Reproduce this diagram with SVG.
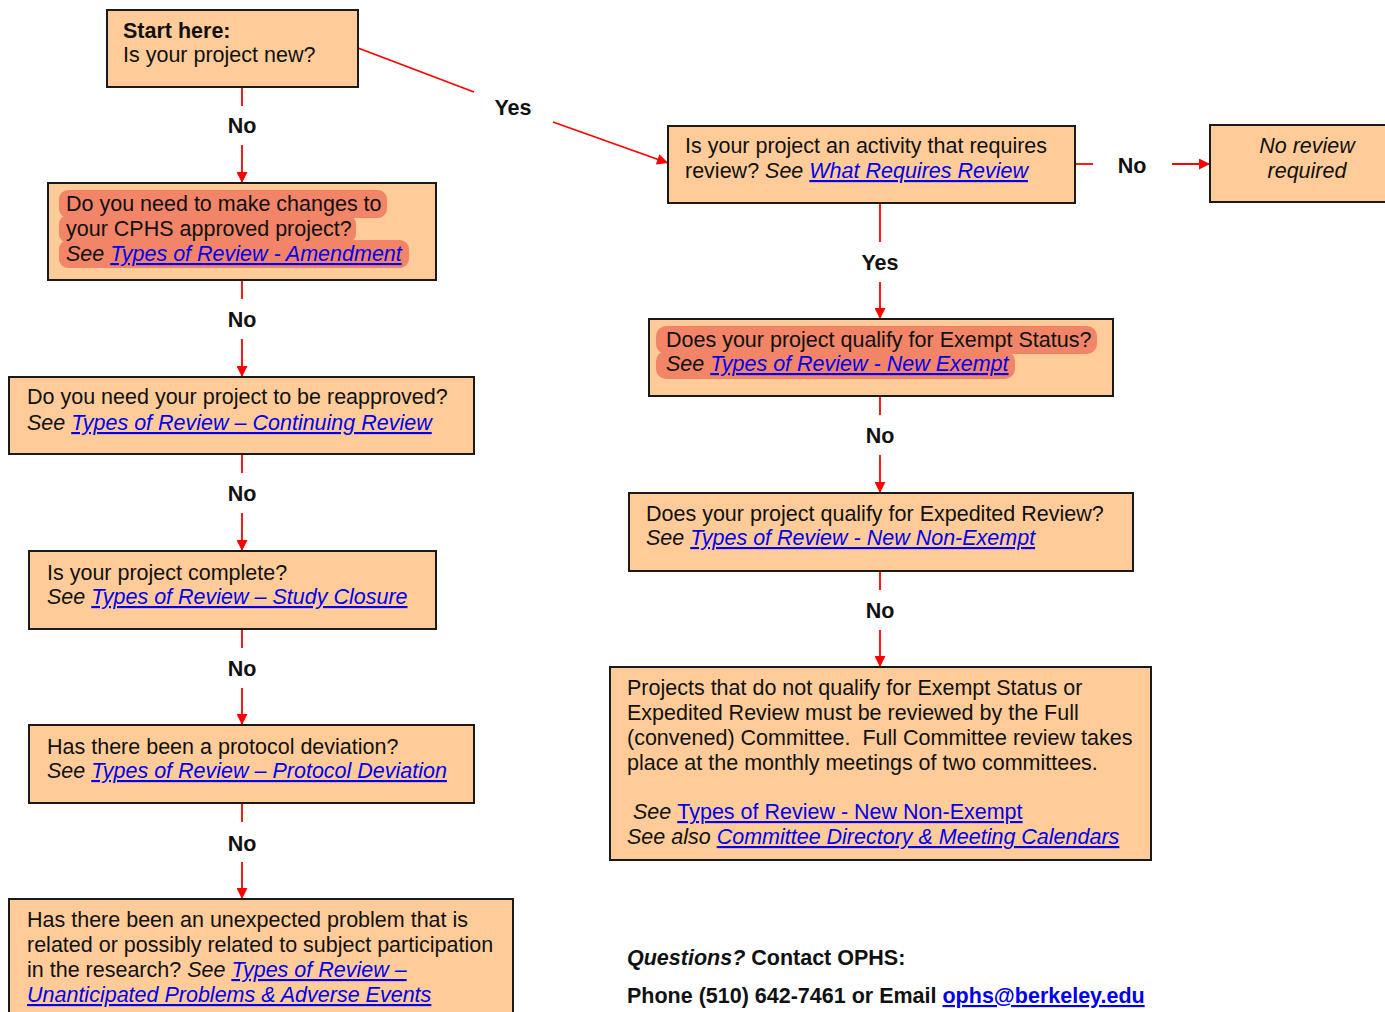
<svg xmlns="http://www.w3.org/2000/svg" width="1385" height="1012" viewBox="0 0 1385 1012">
<defs>
<style>
.box{fill:#FFCC99;stroke:#1a1a1a;stroke-width:2}
.t{font-family:"Liberation Sans",Arial,sans-serif;font-size:21.5px;fill:#111}
.b{font-weight:bold}
.i{font-style:italic}
.lk{fill:#0000EE;text-decoration:underline}
.lbl{font-family:"Liberation Sans",Arial,sans-serif;font-size:21.5px;font-weight:bold;fill:#111;text-anchor:middle}
.c{stroke:#FF0000;stroke-width:1.8;fill:none}
.ca{stroke:#FF0000;stroke-width:1.8;fill:none;marker-end:url(#ah)}
.hl{fill:#F28468}
</style>
<marker id="ah" viewBox="0 0 10 10" refX="10" refY="5" markerWidth="12" markerHeight="11" markerUnits="userSpaceOnUse" orient="auto">
<path d="M0,0 L10,5 L0,10 z" fill="#FF0000"/>
</marker>
</defs>
<rect width="1385" height="1012" fill="#fff"/>

<g id="connectors">
<line class="c" x1="242" y1="87" x2="242" y2="106"/>
<line class="ca" x1="242" y1="145" x2="242" y2="183"/>
<line class="c" x1="242" y1="280" x2="242" y2="299"/>
<line class="ca" x1="242" y1="339" x2="242" y2="377"/>
<line class="c" x1="242" y1="454" x2="242" y2="473"/>
<line class="ca" x1="242" y1="513" x2="242" y2="551"/>
<line class="c" x1="242" y1="629" x2="242" y2="648"/>
<line class="ca" x1="242" y1="688" x2="242" y2="725"/>
<line class="c" x1="242" y1="803" x2="242" y2="822"/>
<line class="ca" x1="242" y1="862" x2="242" y2="899"/>
<line class="c" x1="358" y1="48" x2="474" y2="92"/>
<line class="ca" x1="553" y1="122" x2="668" y2="163"/>
<line class="c" x1="1075" y1="164" x2="1093" y2="164"/>
<line class="ca" x1="1172" y1="164" x2="1210" y2="164"/>
<line class="c" x1="880" y1="203" x2="880" y2="242"/>
<line class="ca" x1="880" y1="282" x2="880" y2="319"/>
<line class="c" x1="880" y1="396" x2="880" y2="415"/>
<line class="ca" x1="880" y1="455" x2="880" y2="493"/>
<line class="c" x1="880" y1="571" x2="880" y2="590"/>
<line class="ca" x1="880" y1="630" x2="880" y2="667"/>
<text class="lbl" x="242" y="133">No</text>
<text class="lbl" x="242" y="327">No</text>
<text class="lbl" x="242" y="501">No</text>
<text class="lbl" x="242" y="676">No</text>
<text class="lbl" x="242" y="851">No</text>
<text class="lbl" x="513" y="115">Yes</text>
<text class="lbl" x="1132" y="173">No</text>
<text class="lbl" x="880" y="270">Yes</text>
<text class="lbl" x="880" y="443">No</text>
<text class="lbl" x="880" y="618">No</text>
</g>

<g id="n-start">
<rect class="box" x="107" y="10" width="251" height="77"/>
<text class="t" x="123" y="38"><tspan class="b">Start here:</tspan><tspan x="123" y="62">Is your project new?</tspan></text>
</g>

<g id="n-amend">
<rect class="box" x="48" y="183" width="388" height="97"/>
<rect class="hl" x="59" y="190" width="328" height="28" rx="9"/>
<rect class="hl" x="59" y="215" width="297" height="28" rx="9"/>
<rect class="hl" x="59" y="240" width="350" height="28" rx="9"/>
<text class="t" x="66" y="211">Do you need to make changes to<tspan x="66" y="236">your CPHS approved project?</tspan><tspan x="66" y="261" class="i">See <tspan class="lk">Types of Review - Amendment</tspan></tspan></text>
</g>

<g id="n-continuing">
<rect class="box" x="9" y="377" width="465" height="77"/>
<text class="t" x="27" y="404">Do you need your project to be reapproved?<tspan x="27" y="430" class="i">See <tspan class="lk">Types of Review – Continuing Review</tspan></tspan></text>
</g>

<g id="n-closure">
<rect class="box" x="29" y="551" width="407" height="78"/>
<text class="t" x="47" y="580">Is your project complete?<tspan x="47" y="604" class="i">See <tspan class="lk">Types of Review – Study Closure</tspan></tspan></text>
</g>

<g id="n-deviation">
<rect class="box" x="29" y="725" width="445" height="78"/>
<text class="t" x="47" y="754">Has there been a protocol deviation?<tspan x="47" y="778" class="i">See <tspan class="lk">Types of Review – Protocol Deviation</tspan></tspan></text>
</g>

<g id="n-problem">
<rect class="box" x="9" y="899" width="504" height="120"/>
<text class="t" x="27" y="927">Has there been an unexpected problem that is<tspan x="27" y="952">related or possibly related to subject participation</tspan><tspan x="27" y="977">in the research? <tspan class="i">See </tspan><tspan class="i lk">Types of Review –</tspan></tspan><tspan x="27" y="1002" class="i lk">Unanticipated Problems &amp; Adverse Events</tspan></text>
</g>

<g id="n-requires">
<rect class="box" x="668" y="126" width="407" height="77"/>
<text class="t" x="685" y="153">Is your project an activity that requires<tspan x="685" y="178">review? <tspan class="i">See </tspan><tspan class="i lk">What Requires Review</tspan></tspan></text>
</g>

<g id="n-noreview">
<rect class="box" x="1210" y="125" width="185" height="77"/>
<text class="t i" x="1307" y="153" text-anchor="middle">No review<tspan x="1307" y="178">required</tspan></text>
</g>

<g id="n-exempt">
<rect class="box" x="649" y="319" width="464" height="77"/>
<rect class="hl" x="656" y="326" width="441" height="28" rx="10"/>
<rect class="hl" x="656" y="351" width="359" height="28" rx="10"/>
<text class="t" x="666" y="347">Does your project qualify for Exempt Status?<tspan x="666" y="371" class="i">See <tspan class="lk">Types of Review - New Exempt</tspan></tspan></text>
</g>

<g id="n-expedited">
<rect class="box" x="629" y="493" width="504" height="78"/>
<text class="t" x="646" y="521">Does your project qualify for Expedited Review?<tspan x="646" y="545" class="i">See <tspan class="lk">Types of Review - New Non-Exempt</tspan></tspan></text>
</g>

<g id="n-full">
<rect class="box" x="610" y="667" width="541" height="193"/>
<text class="t" x="627" y="695">Projects that do not qualify for Exempt Status or<tspan x="627" y="720">Expedited Review must be reviewed by the Full</tspan><tspan x="627" y="745">(convened) Committee.&#160; Full Committee review takes</tspan><tspan x="627" y="770">place at the monthly meetings of two committees.</tspan><tspan x="633" y="819"><tspan class="i">See </tspan><tspan class="lk">Types of Review - New Non-Exempt</tspan></tspan><tspan x="627" y="844"><tspan class="i">See also </tspan><tspan class="i lk">Committee Directory &amp; Meeting Calendars</tspan></tspan></text>
</g>

<g id="contact">
<text class="t b" x="627" y="965"><tspan class="i">Questions?</tspan> Contact OPHS:</text>
<text class="t b" x="627" y="1003">Phone (510) 642-7461 or Email <tspan class="lk">ophs@berkeley.edu</tspan></text>
</g>
</svg>
